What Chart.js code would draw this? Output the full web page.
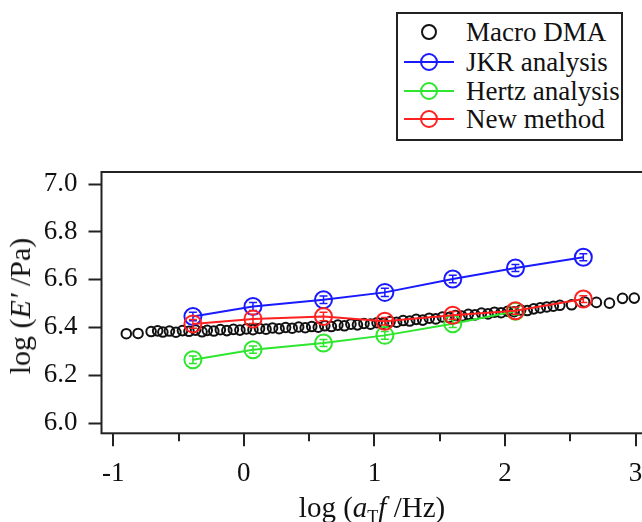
<!DOCTYPE html>
<html>
<head>
<meta charset="utf-8">
<script src="https://cdn.jsdelivr.net/npm/chart.js@4.4.0/dist/chart.umd.min.js"></script>
<style>
  html, body { margin: 0; padding: 0; background: #fff; overflow: hidden; }
  #wrap { position: relative; width: 642px; height: 522px; overflow: hidden;
          font-family: "Liberation Serif", Tinos, "Times New Roman", serif; color: #111; }
  #holder { position: absolute; left: 0; top: 0; width: 700px; height: 522px; }
  #legend { position: absolute; left: 396px; top: 12px; width: 223px; height: 125px;
            border: 2px solid #222; background: #fff; }
  #legend .row { position: absolute; left: 0; height: 30px; width: 223px; }
  #legend svg { position: absolute; left: 6px; top: 0; }
  #legend span { position: absolute; left: 68px; top: 0; line-height: 30px; font-size: 27px; white-space: nowrap; }
  #xtitle { position: absolute; left: 0; width: 744px; top: 491px; text-align: center; font-size: 29px; white-space: nowrap; }
  #ytitle { position: absolute; left: 20px; top: 306px; font-size: 30px; white-space: nowrap;
            transform: translate(-50%, -50%) rotate(-90deg); }
  sub { font-size: 18px; vertical-align: -6px; }
</style>
</head>
<body>
<div id="wrap">
  <div id="holder"><canvas id="myChart" width="700" height="522"></canvas></div>
  <div id="legend"></div>
  <div id="xtitle">log (<i>a</i><sub>T</sub><i>f</i> /Hz)</div>
  <div id="ytitle">log (<i>E′</i> /Pa)</div>
</div>
<script>
// Macro DMA master curve
var dmaX = [-0.90, -0.81, -0.71, -0.66, -0.62, -0.57, -0.52, -0.47, -0.42, -0.37, -0.32, -0.28, -0.23, -0.18,
  -0.13, -0.08, -0.03, 0.02, 0.07, 0.12, 0.17, 0.22, 0.27, 0.32, 0.37, 0.42, 0.47, 0.52, 0.57, 0.62, 0.67,
  0.72, 0.77, 0.82, 0.87, 0.92, 0.97, 1.02, 1.07, 1.12, 1.17, 1.22, 1.27, 1.32, 1.37, 1.42, 1.47, 1.52,
  1.57, 1.62, 1.67, 1.72, 1.77, 1.82, 1.87, 1.92, 1.97, 2.02, 2.07, 2.12, 2.17, 2.22, 2.27, 2.32, 2.37,
  2.42, 2.51, 2.61, 2.70, 2.80, 2.90, 2.99];
var dmaY = [6.372, 6.373, 6.381, 6.384, 6.379, 6.383, 6.378, 6.385, 6.382, 6.387, 6.380, 6.386, 6.383, 6.389,
  6.385, 6.390, 6.387, 6.392, 6.389, 6.394, 6.391, 6.396, 6.393, 6.398, 6.395, 6.400, 6.397, 6.402, 6.399,
  6.405, 6.402, 6.408, 6.405, 6.412, 6.409, 6.415, 6.412, 6.418, 6.416, 6.423, 6.420, 6.427, 6.425, 6.432,
  6.429, 6.437, 6.434, 6.442, 6.440, 6.448, 6.446, 6.453, 6.451, 6.458, 6.455, 6.462, 6.460, 6.466, 6.464,
  6.471, 6.469, 6.476, 6.480, 6.484, 6.487, 6.491, 6.493, 6.505, 6.503, 6.500, 6.520, 6.521];

// nanoindentation frequencies
var indentX = [-0.39, 0.07, 0.61, 1.08, 1.60, 2.08, 2.60];
var jkrY = [6.444, 6.486, 6.514, 6.545, 6.601, 6.647, 6.692];
var jkrErr = [0.018, 0.017, 0.016, 0.017, 0.016, 0.015, 0.015];
var hertzX = [-0.39, 0.07, 0.61, 1.08, 1.60, 2.08];
var hertzY = [6.263, 6.305, 6.333, 6.365, 6.414, 6.466];
var hertzErr = [0.016, 0.015, 0.015, 0.016, 0.016, 0.015];
var newY = [6.413, 6.434, 6.444, 6.424, 6.449, 6.468, 6.517];
var newErr = [0.018, 0.019, 0.018, 0.016, 0.016, 0.015, 0.014];

var xTicks = [-1, 0, 1, 2, 3];
var xMinorTicks = [-0.5, 0.5, 1.5, 2.5];
var yTicks = [6.0, 6.2, 6.4, 6.6, 6.8, 7.0];

var legendItems = [
  { label: 'Macro DMA', color: '#111111', line: false },
  { label: 'JKR analysis', color: '#1a1aff', line: true },
  { label: 'Hertz analysis', color: '#2ee62e', line: true },
  { label: 'New method', color: '#ff2020', line: true }
];

function pts(xs, ys) {
  return xs.map(function (x, i) { return { x: x, y: ys[i] }; });
}

// frame + ticks drawn the way the original plot shows them
var framePlugin = {
  id: 'frame',
  beforeDatasetsDraw: function (chart) {
    var ctx = chart.ctx, a = chart.chartArea, xs = chart.scales.x, ys = chart.scales.y;
    ctx.save();
    ctx.strokeStyle = '#222';
    ctx.lineWidth = 2;
    ctx.strokeRect(a.left, a.top, a.right - a.left, a.bottom - a.top);
    ctx.beginPath();
    yTicks.forEach(function (v) {
      var p = Math.round(ys.getPixelForValue(v)) + 0.5;
      ctx.moveTo(a.left - 13, p); ctx.lineTo(a.left, p);
    });
    xTicks.forEach(function (v) {
      var p = Math.round(xs.getPixelForValue(v));
      ctx.moveTo(p, a.bottom); ctx.lineTo(p, a.bottom + 13);
    });
    xMinorTicks.forEach(function (v) {
      var p = Math.round(xs.getPixelForValue(v));
      ctx.moveTo(p, a.bottom); ctx.lineTo(p, a.bottom + 8);
    });
    ctx.stroke();
    ctx.restore();
  }
};

var errorBars = {
  id: 'errorBars',
  afterDatasetDraw: function (chart, args) {
    var ds = chart.data.datasets[args.index];
    if (!ds.errors) return;
    var ctx = chart.ctx, ys = chart.scales.y;
    ctx.save();
    ctx.strokeStyle = ds.borderColor;
    ctx.lineWidth = 1.5;
    args.meta.data.forEach(function (el, i) {
      var t = ys.getPixelForValue(ds.data[i].y + ds.errors[i]);
      var b = ys.getPixelForValue(ds.data[i].y - ds.errors[i]);
      ctx.beginPath();
      ctx.moveTo(el.x, t); ctx.lineTo(el.x, b);
      ctx.moveTo(el.x - 4, t); ctx.lineTo(el.x + 4, t);
      ctx.moveTo(el.x - 4, b); ctx.lineTo(el.x + 4, b);
      ctx.stroke();
    });
    ctx.restore();
  }
};

var tickFont = { family: "'Liberation Serif', Tinos, 'Times New Roman', serif", size: 27 };

var ctx = document.getElementById('myChart');
var myChart = new Chart(ctx, {
  type: 'scatter',
  data: {
    datasets: [{
      label: 'Macro DMA',
      data: pts(dmaX, dmaY),
      showLine: false,
      borderColor: '#111111',
      backgroundColor: 'rgba(0,0,0,0)',
      pointRadius: 4.8,
      pointBorderWidth: 2,
      order: 3
    }, {
      label: 'JKR analysis',
      data: pts(indentX, jkrY),
      errors: jkrErr,
      showLine: true,
      borderColor: legendItems[1].color,
      backgroundColor: 'rgba(0,0,0,0)',
      borderWidth: 2,
      pointRadius: 8.5,
      pointBorderWidth: 2,
      order: 2
    }, {
      label: 'Hertz analysis',
      data: pts(hertzX, hertzY),
      errors: hertzErr,
      showLine: true,
      borderColor: legendItems[2].color,
      backgroundColor: 'rgba(0,0,0,0)',
      borderWidth: 2,
      pointRadius: 8.5,
      pointBorderWidth: 2,
      order: 1
    }, {
      label: 'New method',
      data: pts(indentX, newY),
      errors: newErr,
      showLine: true,
      borderColor: legendItems[3].color,
      backgroundColor: 'rgba(0,0,0,0)',
      borderWidth: 2,
      pointRadius: 8.5,
      pointBorderWidth: 2,
      order: 0
    }]
  },
  options: {
    responsive: false,
    animation: false,
    layout: { padding: { top: 172, left: 0, right: 10, bottom: 0 } },
    plugins: { legend: { display: false }, tooltip: { enabled: false } },
    scales: {
      x: {
        type: 'linear',
        min: -1.09,
        max: 3.413,
        grid: { display: false, drawTicks: false },
        border: { display: false },
        afterFit: function (s) { s.height = 88.7; },
        afterBuildTicks: function (s) { s.ticks = xTicks.map(function (v) { return { value: v }; }); },
        ticks: { font: tickFont, color: '#111', padding: 24, maxRotation: 0,
                 callback: function (v) { return String(v); } }
      },
      y: {
        type: 'linear',
        min: 5.955,
        max: 7.049,
        grid: { display: false, drawTicks: false },
        border: { display: false },
        afterFit: function (s) { s.width = 101.5; },
        afterBuildTicks: function (s) { s.ticks = yTicks.map(function (v) { return { value: v }; }); },
        ticks: { font: tickFont, color: '#111', padding: 24,
                 callback: function (v) { return v.toFixed(1); } }
      }
    }
  },
  plugins: [framePlugin, errorBars]
});

// legend box (same look as the original figure)
var legendRowsTop = [3, 33, 62, 90];
var legend = document.getElementById('legend');
legendItems.forEach(function (item, i) {
  var row = document.createElement('div');
  row.className = 'row';
  row.style.top = legendRowsTop[i] + 'px';
  var r = item.line ? 8 : 7;
  var svg = '<svg width="56" height="30" viewBox="0 0 56 30">' +
    (item.line ? '<line x1="0" y1="15" x2="50" y2="15" stroke="' + item.color + '" stroke-width="2"/>' : '') +
    '<circle cx="25" cy="15" r="' + r + '" fill="none" stroke="' + item.color + '" stroke-width="2"/></svg>';
  row.innerHTML = svg + '<span>' + item.label + '</span>';
  legend.appendChild(row);
});
</script>
</body>
</html>
